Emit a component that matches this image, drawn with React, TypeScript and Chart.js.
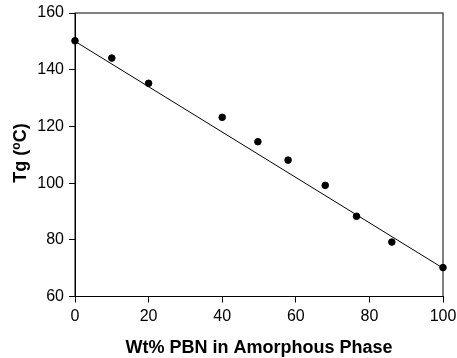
import React, { useEffect, useRef } from "react";
import { Chart, registerables } from "chart.js";

Chart.register(...registerables);

const wtPBN = [0, 10, 20, 40, 49.7, 57.9, 68, 76.5, 86.1, 100];
const tgValues = [150.2, 144.1, 135.2, 123.2, 114.6, 108.1, 99.2, 88.3, 79.2, 70.2];
const fitX = [0, 100];
const fitY = [150, 70];
const xTitle = "Wt% PBN in Amorphous Phase";
const yTitleMain = "Tg (";
const yTitleSup = "o";
const yTitleEnd = "C)";

const FONT = "'Liberation Sans', Arial, sans-serif";

const framePlugin = {
  id: "frameAndTitles",
  beforeDatasetsDraw(chart: any) {
    const { ctx, chartArea } = chart;
    const { left, right, top, bottom } = chartArea;
    ctx.save();
    ctx.strokeStyle = "#000";
    ctx.lineWidth = 1;
    ctx.strokeRect(left, top, right - left, bottom - top);
    ctx.restore();
  },
  afterDraw(chart: any) {
    const { ctx, chartArea } = chart;
    const { left, right } = chartArea;
    ctx.save();
    // x title
    ctx.fillStyle = "#000";
    ctx.font = `bold 18px ${FONT}`;
    ctx.textAlign = "center";
    ctx.textBaseline = "alphabetic";
    ctx.fillText(xTitle, (left + right) / 2, 353);

    // y title with superscript
    ctx.translate(26, 153);
    ctx.rotate(-Math.PI / 2);
    const mainFont = `bold 18px ${FONT}`;
    const supFont = `bold 12px ${FONT}`;
    ctx.font = mainFont;
    const w1 = ctx.measureText(yTitleMain).width;
    const w3 = ctx.measureText(yTitleEnd).width;
    ctx.font = supFont;
    const w2 = ctx.measureText(yTitleSup).width;
    const total = w1 + w2 + w3;
    let x = -total / 2;
    ctx.textAlign = "left";
    ctx.font = mainFont;
    ctx.fillText(yTitleMain, x, 0);
    x += w1;
    ctx.font = supFont;
    ctx.fillText(yTitleSup, x, -6);
    x += w2;
    ctx.font = mainFont;
    ctx.fillText(yTitleEnd, x, 0);
    ctx.restore();
  },
};

export default function App() {
  const ref = useRef<HTMLCanvasElement>(null);
  useEffect(() => {
    if (!ref.current) return;
    const chart = new Chart(ref.current, {
      type: "scatter",
      data: {
        datasets: [
          {
            type: "line",
            data: fitX.map((x, i) => ({ x, y: fitY[i] })),
            borderColor: "#000",
            borderWidth: 1,
            pointRadius: 0,
            fill: false,
          },
          {
            type: "scatter",
            data: wtPBN.map((x, i) => ({ x, y: tgValues[i] })),
            backgroundColor: "#000",
            borderColor: "#000",
            pointRadius: 3.3,
            pointHoverRadius: 3.3,
            clip: false,
          },
        ],
      },
      options: {
        animation: false,
        responsive: false,
        maintainAspectRatio: false,
        plugins: { legend: { display: false }, tooltip: { enabled: false } },
        layout: { padding: { top: 13, right: 14, left: 0, bottom: 0 } },
        scales: {
          x: {
            type: "linear",
            min: 0,
            max: 100,
            ticks: { stepSize: 20, color: "#000", font: { family: FONT, size: 16 }, padding: 4 },
            grid: { drawOnChartArea: false, drawTicks: true, tickLength: 6, color: "#000" },
            border: { display: true, color: "#000", width: 1 },
            afterFit: (s: any) => {
              s.height = 61.5;
              s.paddingLeft = 0;
              s.paddingRight = 0;
            },
          },
          y: {
            type: "linear",
            min: 60,
            max: 160,
            ticks: { stepSize: 20, color: "#000", font: { family: FONT, size: 16 }, padding: 5 },
            grid: { drawOnChartArea: false, drawTicks: true, tickLength: 6, color: "#000" },
            border: { display: true, color: "#000", width: 1 },
            afterFit: (s: any) => {
              s.width = 75;
              s.paddingTop = 0;
              s.paddingBottom = 0;
            },
          },
        },
      },
      plugins: [framePlugin],
    });
    return () => chart.destroy();
  }, []);
  return (
    <div style={{ position: "fixed", left: 0, top: 0, width: 457, height: 358, background: "#fff" }}>
      <canvas ref={ref} width={457} height={358} style={{ width: 457, height: 358 }} />
    </div>
  );
}
